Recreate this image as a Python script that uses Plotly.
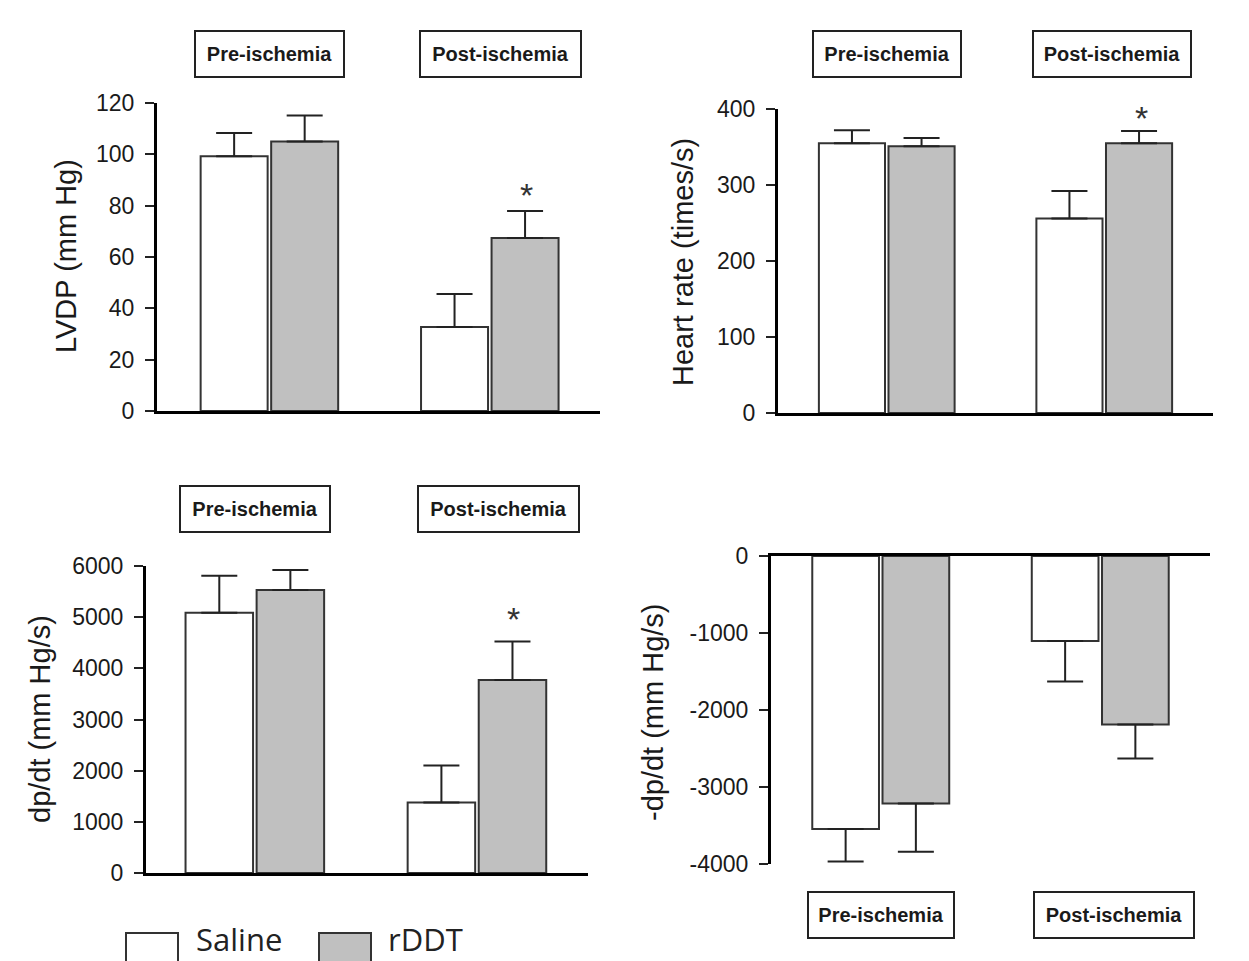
import plotly.graph_objects as go

# page has an 8px body margin; figure sized so its bottom/right meet the window edge
PAGE_W, PAGE_H, BODY = 1249, 961, 8
W, H = PAGE_W - BODY, PAGE_H - BODY

groups = ["Pre-ischemia", "Post-ischemia"]
series_names = ["Saline", "rDDT"]

# LVDP (mm Hg)
lvdp_saline = [99.3, 32.7]
lvdp_saline_err = [9.0, 12.9]
lvdp_rddt = [105.0, 67.4]
lvdp_rddt_err = [10.1, 10.5]

# Heart rate (times/s)
hr_saline = [355, 256]
hr_saline_err = [17, 36]
hr_rddt = [351, 355]
hr_rddt_err = [11, 16]

# dp/dt (mm Hg/s)
dpdt_saline = [5085, 1380]
dpdt_saline_err = [725, 720]
dpdt_rddt = [5530, 3770]
dpdt_rddt_err = [390, 755]

# -dp/dt (mm Hg/s)
ndpdt_saline = [-3546, -1103]
ndpdt_saline_err = [420, 527]
ndpdt_rddt = [-3213, -2188]
ndpdt_rddt_err = [627, 441]

lvdp_ticks = [0, 20, 40, 60, 80, 100, 120]
hr_ticks = [0, 100, 200, 300, 400]
dpdt_ticks = [0, 1000, 2000, 3000, 4000, 5000, 6000]
ndpdt_ticks = [-4000, -3000, -2000, -1000, 0]

FILL = {"Saline": "#ffffff", "rDDT": "#c0c0c0"}
EDGE = "#333333"
TXT = "#1a1a1a"
FONT = "Liberation Sans, Arial, sans-serif"


def fx(p):
    return (p - BODY) / W


def fy(p):
    return 1 - (p - BODY) / H


def px_x(a, b):
    return [fx(a), fx(b)]


def px_y(top, bottom):
    return [fy(bottom), fy(top)]


panels = [
    ("", lvdp_saline, lvdp_saline_err, lvdp_rddt, lvdp_rddt_err, [0, 120], lvdp_ticks,
     px_x(157, 600), px_y(103, 411), False),
    ("2", hr_saline, hr_saline_err, hr_rddt, hr_rddt_err, [0, 400], hr_ticks,
     px_x(778, 1213), px_y(109, 413), False),
    ("3", dpdt_saline, dpdt_saline_err, dpdt_rddt, dpdt_rddt_err, [0, 6000], dpdt_ticks,
     px_x(146, 588), px_y(566, 873), False),
    ("4", ndpdt_saline, ndpdt_saline_err, ndpdt_rddt, ndpdt_rddt_err, [-4000, 0], ndpdt_ticks,
     px_x(771, 1210), px_y(556, 864), True),
]

fig = go.Figure()
layout = dict(
    width=W, height=H,
    margin=dict(l=0, r=0, t=0, b=0, autoexpand=False),
    paper_bgcolor="white", plot_bgcolor="white",
    showlegend=False,
    barmode="group", bargap=0.36, bargroupgap=0.05,
    font=dict(family=FONT, color=TXT),
)

xranges = {"": [-0.51, 1.5], "2": [-0.5, 1.5], "3": [-0.49, 1.5], "4": [-0.5, 1.5]}

for suf, sal, sal_e, rd, rd_e, yr, ticks, xd, yd, neg in panels:
    xa = "x" + suf
    ya = "y" + suf
    for name, vals, errs in (("Saline", sal, sal_e), ("rDDT", rd, rd_e)):
        zeros = [0] * len(errs)
        fig.add_trace(go.Bar(
            x=groups, y=vals, name=name, xaxis=xa, yaxis=ya,
            marker=dict(color=FILL[name], line=dict(color=EDGE, width=2)),
            error_y=dict(type="data", symmetric=False,
                         array=zeros if neg else errs,
                         arrayminus=errs if neg else zeros,
                         color="#222222", thickness=2, width=18),
        ))
    layout["xaxis" + suf] = dict(
        domain=xd, anchor=ya, range=xranges[suf], type="category",
        showline=True, linecolor="black", linewidth=3,
        ticks="", showticklabels=False, showgrid=False, zeroline=False,
        side="top" if neg else "bottom", fixedrange=True, automargin=False,
    )
    layout["yaxis" + suf] = dict(
        domain=yd, anchor=xa, range=yr, tickvals=ticks,
        ticktext=[str(t) for t in ticks],
        showline=True, linecolor="black", linewidth=3,
        ticks="outside", ticklen=9, tickwidth=2, tickcolor="#222222",
        ticklabelstandoff=6,
        tickfont=dict(size=23, color=TXT, family=FONT),
        showgrid=False, zeroline=False, fixedrange=True, automargin=False,
    )

annotations = []

ytitles = [
    ("LVDP (mm Hg)", 66, 256),
    ("Heart rate (times/s)", 683, 262),
    ("dp/dt (mm Hg/s)", 40, 719),
    ("-dp/dt (mm Hg/s)", 653, 712),
]
for text, cx, cy in ytitles:
    annotations.append(dict(
        text=text, x=fx(cx), y=fy(cy), xref="paper", yref="paper",
        textangle=-90, showarrow=False, xanchor="center", yanchor="middle",
        font=dict(size=29, color=TXT, family=FONT),
    ))

boxes = [
    ("", 54, [151, 163], 11),
    ("2", 54, [150, 160], 8),
    ("3", 509, [152, 163], 22),
    ("4", 915, [148, 162], 14),
]
for suf, cy, widths, pshift in boxes:
    for g, wdt, sh in zip(groups, widths, [0, pshift]):
        annotations.append(dict(
            text="<b>%s</b>" % g, x=g, xref="x" + suf, y=fy(cy), yref="paper",
            xshift=sh, showarrow=False, xanchor="center", yanchor="middle",
            width=wdt - 4, height=44, borderpad=0,
            bordercolor="#222222", borderwidth=2, bgcolor="white",
            font=dict(size=20, color=TXT, family=FONT),
        ))

stars = [("", 84), ("2", 388), ("3", 4960)]
for suf, yv in stars:
    annotations.append(dict(
        text="*", x=groups[1], xref="x" + suf, y=yv, yref="y" + suf,
        xshift=37, showarrow=False, xanchor="center", yanchor="middle",
        font=dict(size=34, color="#333333", family=FONT),
    ))

shapes = []
leg_items = [("Saline", 126, 178, 194), ("rDDT", 319, 371, 386)]
for name, x0, x1, tx in leg_items:
    shapes.append(dict(type="rect", xref="paper", yref="paper",
                       x0=fx(x0), x1=fx(x1), y0=fy(966), y1=fy(933),
                       fillcolor=FILL[name], line=dict(color="#333333", width=2)))
    annotations.append(dict(
        text=name, x=fx(tx), y=0, xref="paper", yref="paper",
        showarrow=False, xanchor="left", yanchor="bottom", yshift=-1,
        font=dict(size=31, color="#222222", family="Open Sans, sans-serif"),
    ))

layout["annotations"] = annotations
layout["shapes"] = shapes
fig.update_layout(**layout)

fig.write_html("out.html")
